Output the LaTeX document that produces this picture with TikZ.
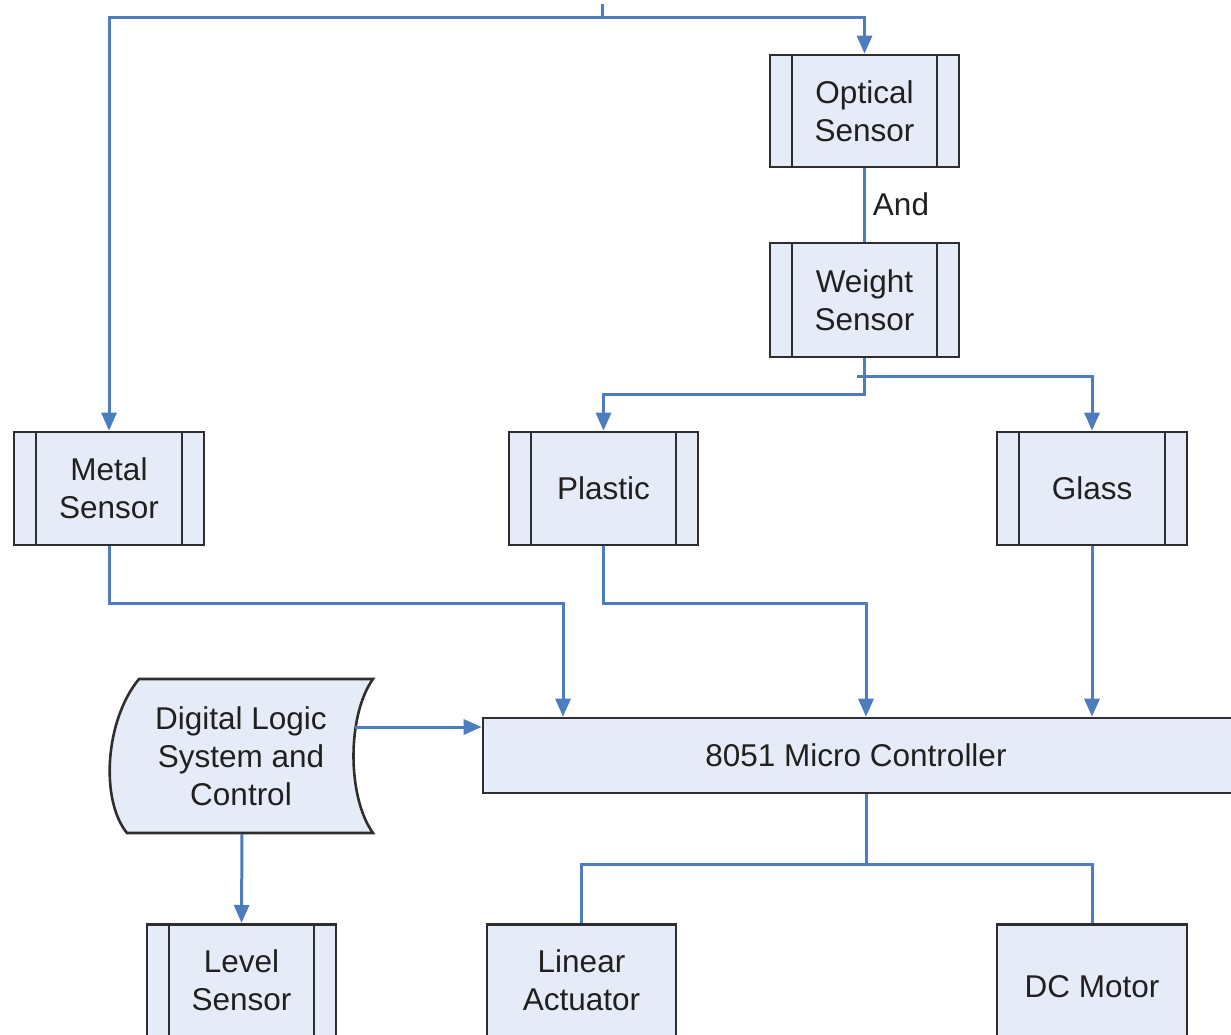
\documentclass[tikz,border=0pt]{standalone}
\usepackage{fontspec}
\setmainfont{Liberation Sans}
\usetikzlibrary{arrows.meta,calc}
\definecolor{linec}{HTML}{4D7DBF}
\definecolor{fillc}{HTML}{E6ECF7}
\definecolor{edgec}{HTML}{2E2E2E}
\definecolor{txtc}{HTML}{202020}
\tikzset{
  conn/.style={draw=linec,line width=3pt},
  arr/.style={conn,-{Triangle[length=18pt,width=15pt]}},
  plainbox/.style={draw=edgec,line width=2.6pt,fill=fillc,rectangle,inner sep=0pt,
     align=center,text=txtc,font=\fontsize{31.5}{38}\selectfont},
  subbox/.style={plainbox,path picture={
     \draw[edgec,line width=2.4pt] ([xshift=22pt]path picture bounding box.north west) -- ([xshift=22pt]path picture bounding box.south west);
     \draw[edgec,line width=2.4pt] ([xshift=-22pt]path picture bounding box.north east) -- ([xshift=-22pt]path picture bounding box.south east);}},
  lbl/.style={text=txtc,font=\fontsize{31.5}{38}\selectfont,inner sep=0pt,align=center}
}
\begin{document}
\begin{tikzpicture}[x=1pt,y=-1pt]
\useasboundingbox (0,0) rectangle (1231,1034);
\clip (0,0) rectangle (1231,1034);
% nodes
\node[subbox,minimum width=189pt,minimum height=112pt] (opt) at (864.5,111) {Optical\\Sensor};
\node[subbox,minimum width=189pt,minimum height=114pt] (wgt) at (864.5,300) {Weight\\Sensor};
\node[subbox,minimum width=190pt,minimum height=113pt] (metal) at (109,488.5) {Metal\\Sensor};
\node[subbox,minimum width=189pt,minimum height=113pt] (plastic) at (603.5,488.5) {Plastic};
\node[subbox,minimum width=190pt,minimum height=113pt] (glass) at (1092,488.5) {Glass};
\node[plainbox,minimum width=750pt,minimum height=75pt] (mcu) at (858,755.5) {\hspace*{-4pt}8051 Micro Controller};
\node[subbox,minimum width=189pt,minimum height=112pt,anchor=north] (level) at (241.5,923) {Level\\Sensor};
\node[plainbox,minimum width=189pt,minimum height=112pt,anchor=north] (linear) at (581.5,923) {Linear\\Actuator};
\node[plainbox,minimum width=190pt,minimum height=124pt,anchor=north] (dc) at (1092,923) {DC Motor};
% digital logic stored-data shape
\draw[edgec,line width=2.6pt,fill=fillc] (139,679) -- (373,679)
   .. controls (347,715) and (347,797) .. (373,833) -- (127,833)
   .. controls (100,800) and (105,720) .. (139,679) -- cycle;
\node[lbl] (dls) at (241,756) {Digital Logic\\System and\\Control};
\coordinate (dlsout) at (355,727);
\coordinate (dlsbot) at (242,834);
% top feed
\coordinate (src) at (602,4);
\coordinate (topj) at (602,17);
\draw[conn] (src) -- (topj);
\draw[arr] (topj) -| (metal.north);
\draw[arr] (topj) -| (opt.north);
% optical and weight
\draw[conn] (opt.south) -- (wgt.south |- wgt.north);
\node[lbl] (andl) at (901,204) {And};
\draw[arr] (wgt.south) -- ++(0,36) -| (plastic.north);
\coordinate (gsplit) at (857,376);
\draw[arr] (gsplit) -| (glass.north);
% to micro controller
\draw[arr] (metal.south) -- ++(0,57) -| ([xshift=-295pt]mcu.north);
\draw[arr] (plastic.south) -- ++(0,57) -| ([xshift=8pt]mcu.north);
\draw[arr] (glass.south) -- (glass.south |- mcu.north);
\draw[arr] (dlsout) -- (dlsout -| mcu.west);
\draw[arr] (dlsbot) -- (level.north);
% outputs
\draw[conn] ([xshift=8pt]mcu.south) -- ++(0,70) coordinate (outj) -| (linear.north);
\draw[conn] (outj) -| (dc.north);
\end{tikzpicture}
\end{document}
